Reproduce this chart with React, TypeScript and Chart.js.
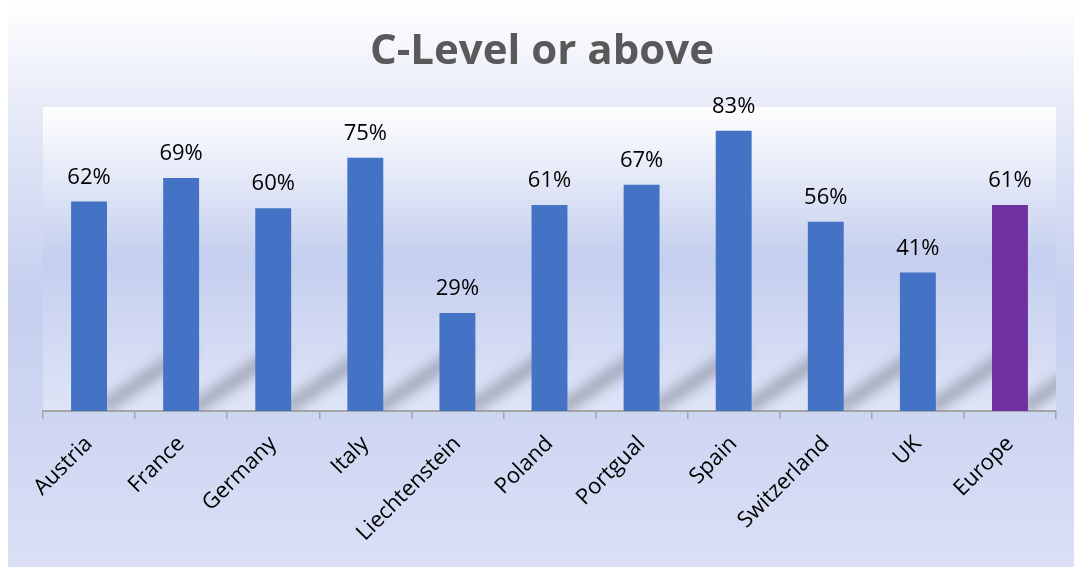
import React, { useEffect, useRef } from "react";
import { Chart, registerables } from "chart.js";

Chart.register(...registerables);

const titleText = "C-Level or above";
const categories = [
  "Austria",
  "France",
  "Germany",
  "Italy",
  "Liechtenstein",
  "Poland",
  "Portgual",
  "Spain",
  "Switzerland",
  "UK",
  "Europe",
];
const values = [62, 69, 60, 75, 29, 61, 67, 83, 56, 41, 61];
const barColors = [
  "#4472C4", "#4472C4", "#4472C4", "#4472C4", "#4472C4", "#4472C4",
  "#4472C4", "#4472C4", "#4472C4", "#4472C4", "#7030A0",
];
const yMin = 0;
const yMax = 90;

const plotBgPlugin = {
  id: "plotBg",
  beforeDraw(chart: any) {
    const { ctx, chartArea: a } = chart;
    const g = ctx.createLinearGradient(0, a.top, 0, a.bottom);
    g.addColorStop(0, "#ffffff");
    g.addColorStop(0.5, "#c4ceee");
    g.addColorStop(1, "#dfe4f7");
    ctx.save();
    ctx.fillStyle = g;
    ctx.fillRect(a.left, a.top, a.right - a.left, a.bottom - a.top);
    ctx.restore();
  },
};

const shadowPlugin = {
  id: "barShadow",
  beforeDatasetsDraw(chart: any) {
    const { ctx, chartArea: a } = chart;
    const meta = chart.getDatasetMeta(0);
    ctx.save();
    ctx.beginPath();
    ctx.rect(a.left, a.top, a.right - a.left, a.bottom - a.top);
    ctx.clip();
    ctx.filter = "blur(6px)";
    ctx.strokeStyle = "rgba(130,134,150,0.6)";
    ctx.lineWidth = 14;
    ctx.lineCap = "butt";
    meta.data.forEach((bar: any) => {
      const right = bar.x + bar.width / 2;
      const base = bar.base;
      ctx.beginPath();
      ctx.moveTo(right - 6, base - 2);
      ctx.lineTo(right + 85, base - 64);
      ctx.stroke();
    });
    ctx.restore();
  },
};

const labelPlugin = {
  id: "valueLabels",
  afterDatasetsDraw(chart: any) {
    const { ctx } = chart;
    const meta = chart.getDatasetMeta(0);
    ctx.save();
    ctx.font = "22px 'Open Sans'";
    ctx.fillStyle = "#000000";
    ctx.textAlign = "center";
    ctx.textBaseline = "alphabetic";
    meta.data.forEach((bar: any, i: number) => {
      ctx.fillText(values[i] + "%", bar.x, bar.y - 18);
    });
    ctx.restore();
  },
};

const titlePlugin = {
  id: "customTitle",
  afterDraw(chart: any) {
    const { ctx, width } = chart;
    ctx.save();
    ctx.font = "bold 42px 'Open Sans'";
    ctx.fillStyle = "#595959";
    ctx.textAlign = "center";
    ctx.textBaseline = "alphabetic";
    ctx.fillText(titleText, width / 2 + 1, 64);
    ctx.restore();
  },
};

export default function App() {
  const ref = useRef<HTMLCanvasElement | null>(null);
  useEffect(() => {
    if (!ref.current) return;
    const chart = new Chart(ref.current, {
      type: "bar",
      data: {
        labels: categories,
        datasets: [
          {
            data: values,
            backgroundColor: barColors,
            borderWidth: 0,
            barPercentage: 0.78,
            categoryPercentage: 0.5,
          },
        ],
      },
      options: {
        animation: false,
        responsive: true,
        maintainAspectRatio: false,
        layout: { padding: { left: 35, right: 18, top: 107, bottom: 0 } },
        plugins: {
          legend: { display: false },
          title: { display: false },
          tooltip: { enabled: false },
        },
        scales: {
          x: {
            afterFit: (scale: any) => {
              scale.height = 156;
            },
            grid: {
              display: true,
              drawOnChartArea: false,
              drawTicks: true,
              tickLength: 8,
              color: "#a6a6a6",
              lineWidth: 1.5,
              offset: true,
            },
            border: { display: true, color: "#a6a6a6", width: 2 },
            ticks: {
              color: "#000000",
              font: { family: "'Open Sans'", size: 22 },
              maxRotation: 45,
              minRotation: 45,
              padding: 12,
            },
          },
          y: {
            display: false,
            min: yMin,
            max: yMax,
          },
        },
      },
      plugins: [plotBgPlugin, shadowPlugin, labelPlugin, titlePlugin],
    });
    return () => chart.destroy();
  }, []);

  return (
    <div
      style={{
        position: "fixed",
        left: 8,
        top: 0,
        width: 1066,
        height: 567,
        background:
          "linear-gradient(to bottom, #ffffff 0%, #e6eaf8 20%, #c5cfee 52%, #cfd7f2 78%, #dbe0f6 100%)",
      }}
    >
      <canvas ref={ref} />
    </div>
  );
}
